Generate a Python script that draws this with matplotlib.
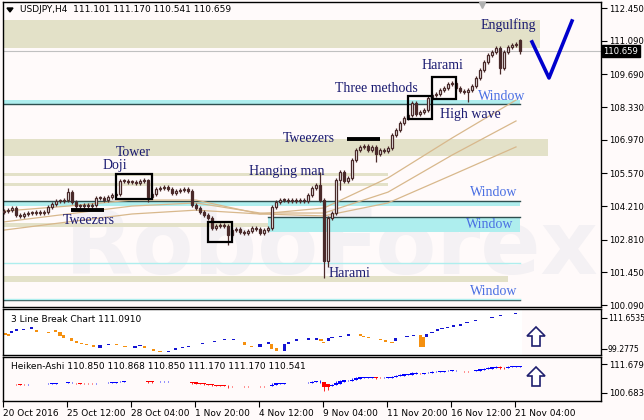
import matplotlib
matplotlib.use('Agg')
import matplotlib.pyplot as plt
import matplotlib.transforms as mtransforms
from matplotlib.patches import Rectangle, Polygon
import numpy as np

# ---- candle data (USDJPY H4) ----
closes = [104.00, 104.04, 104.13, 103.84, 103.80, 103.88, 103.92, 103.92, 103.96, 103.92,
          103.96, 104.17, 104.29, 104.42, 104.42, 104.46, 104.79, 104.38, 104.21, 104.21,
          104.25, 104.21, 104.25, 104.54, 104.54, 104.46, 104.59, 104.67, 104.71, 105.25,
          105.25, 105.21, 105.21, 105.17, 105.25, 105.29, 104.59, 104.71, 104.92, 104.96,
          105.00, 104.92, 104.75, 104.84, 104.88, 104.92, 104.84, 104.25, 104.13, 103.96,
          103.84, 103.71, 103.30, 103.38, 103.42, 103.38, 103.00, 103.21, 103.25, 103.13,
          103.09, 103.17, 103.30, 103.25, 103.09, 103.21, 103.30, 104.17, 104.38, 104.46,
          104.46, 104.42, 104.46, 104.42, 104.46, 104.42, 104.67, 104.96, 105.09, 104.46,
          101.92, 103.71, 103.92, 105.29, 105.63, 105.25, 105.38, 106.13, 106.54, 106.67,
          106.71, 106.54, 106.67, 106.37, 106.54, 106.50, 106.63, 107.17, 107.37, 107.66,
          107.87, 108.00, 108.50, 108.04, 108.12, 108.21, 108.71, 108.83, 108.87, 109.04,
          109.12, 109.29, 109.33, 109.12, 109.00, 108.95, 109.04, 109.21, 109.54, 109.87,
          110.20, 110.49, 110.62, 110.79, 109.95, 110.62, 110.83, 110.91, 110.95, 110.659]
first_open = 103.96
last_open = 111.101
# long wicks that stand out
high_marks = {16: 104.96, 36: 105.33, 79: 105.63, 129: 111.170}
low_marks = {36: 104.38, 56: 102.59, 80: 101.22, 81: 101.67, 84: 104.88,
             93: 106.04, 116: 108.55, 124: 109.70, 129: 110.541}

# moving averages, sampled every 16 bars
ma_x = [0, 16, 32, 48, 64, 80, 96, 112, 128]
ma_fast = [104.00, 104.21, 104.46, 104.46, 103.88, 104.13, 105.38, 107.04, 108.62]
ma_mid = [103.55, 103.88, 104.21, 104.34, 103.92, 103.92, 104.79, 106.33, 107.75]
ma_slow = [103.21, 103.55, 103.88, 104.04, 103.88, 103.80, 104.34, 105.50, 106.67]

# support / resistance zones: (x start, x end, low, high, colour key)
zones = [(-1, 134, 110.79, 111.95, 'k'),
         (-1, 129, 108.46, 108.62, 'c'),
         (-1, 136, 106.29, 107.00, 'k'),
         (-1, 96, 105.46, 105.58, 'k'),
         (-1, 96, 105.04, 105.17, 'k'),
         (-1, 129, 104.21, 104.38, 'c'),
         (-1, 77, 103.34, 103.50, 'k'),
         (66, 129, 103.13, 103.75, 'c'),
         (-1, 126, 101.05, 101.30, 'k')]
zone_lines = [(-1, 129, 108.46), (-1, 129, 104.42), (66, 129, 103.75), (-1, 129, 100.30)]
thin_cyan = [(-1, 129, 101.84), (-1, 129, 100.36)]

# 3 Line Break bricks
lb_x = [0.25, 1.1, 1.9, 3.1, 4.9, 6.9, 8.1, 11.1, 12.9, 14.0, 14.9, 16.9, 18.1, 19.4, 20.6, 22.4,
        24.0, 26.1, 28.1, 30.25, 32.75, 34.0, 35.1, 37.4, 39.0, 41.1, 42.9, 44.6, 46.1, 49.6,
        52.6, 55.1, 57.4, 60.1, 61.9, 64.0, 66.1, 66.9, 68.1, 70.1, 71.1, 73.1, 76.1, 78.1,
        79.25, 79.9, 81.1, 82.0, 84.1, 86.1, 89.1, 89.9, 91.1, 94.1, 95.4, 97.0, 97.9, 100.75,
        102.4, 104.1, 104.9, 105.6, 107.0, 108.4, 109.5, 110.9, 112.4, 114.1, 115.75, 117.9,
        122.0, 124.1, 127.9]
lb_hi = [105.65, 105.25, 106.45, 107.25, 107.25, 108.05, 106.85, 106.05, 106.85, 106.05,
         104.85, 103.65, 102.45, 101.65, 101.25, 100.85, 100.85, 101.25, 101.25, 100.45,
         100.45, 100.85, 100.45, 99.25, 98.45, 98.45, 99.65, 100.05, 100.45, 101.65,
         102.45, 103.25, 103.25, 102.05, 100.45, 101.25, 102.05, 101.25, 99.65, 101.25,
         102.05, 103.25, 103.65, 103.65, 103.25, 102.05, 103.65, 104.05, 104.45, 105.25,
         105.25, 104.45, 104.05, 103.25, 102.85, 102.05, 103.65, 104.45, 104.85, 104.85,
         104.05, 105.25, 106.05, 107.25, 107.65, 108.05, 108.85, 109.25, 110.05, 110.85,
         112.05, 112.85, 113.65]
lb_lo = [104.85, 104.45, 105.65, 106.45, 106.85, 107.25, 106.05, 105.65, 106.05, 104.45,
         103.65, 102.45, 101.65, 101.25, 100.85, 100.05, 99.65, 100.85, 100.85, 100.05,
         99.65, 100.45, 99.65, 98.45, 98.05, 98.05, 98.85, 99.65, 100.05, 101.25,
         102.05, 102.85, 102.85, 100.85, 100.05, 100.05, 101.25, 99.25, 98.45, 98.45,
         101.25, 102.45, 102.85, 102.85, 102.45, 101.65, 102.45, 103.65, 104.05, 104.45,
         104.45, 104.05, 103.65, 102.85, 102.05, 101.65, 102.45, 104.05, 104.45, 100.05,
         100.05, 104.05, 105.65, 106.45, 107.25, 107.65, 108.05, 108.45, 109.65, 110.45,
         111.65, 112.45, 113.25]
lb_dir = list("oobbbb" "oooooooooo" "bb" "oo" "bb" "ooo" "bbbbbbbb" "oo" "bb" "oo"
              "bbbbb" "oo" "bbbb" "oooooo" "bbb" "oo" "bbbbbbbbbbbb")

date_labels = ['20 Oct 2016', '25 Oct 12:00', '28 Oct 04:00', '1 Nov 20:00', '4 Nov 12:00',
               '9 Nov 04:00', '11 Nov 20:00', '16 Nov 12:00', '21 Nov 04:00']
price_ticks = [100.09, 101.45, 102.81, 104.21, 105.57, 106.97, 108.33, 109.69, 111.09, 112.45]

# ---- colours ----
BG = '#FFFAFA'
KHAKI = '#E3E1C8'
CYAN = '#AEEEEE'
DARK = '#2F4F4F'
CANDLE = '#4A2A2A'
NAVY = '#191970'
WINBLUE = '#4A6FE3'
TAN = '#D8B88C'
TICKFS = 6.1

W, H = 644, 420
fig = plt.figure(figsize=(W / 100, H / 100), dpi=100, facecolor=BG)


def px_axes(x0, y0, x1, y1):
    return fig.add_axes([x0 / W, 1 - y1 / H, (x1 - x0) / W, (y1 - y0) / H])


ax = px_axes(3, 2, 601, 307)
ax1 = px_axes(3, 309, 601, 355)
ax2 = px_axes(3, 357, 601, 401)
xlim = (-0.25, 149.25)

for a in (ax, ax1, ax2):
    a.set_facecolor(BG)
    a.set_xlim(*xlim)
    for s in a.spines.values():
        s.set_color('black')
        s.set_linewidth(1)
    a.yaxis.tick_right()
    a.tick_params(axis='y', direction='out', length=4, labelsize=TICKFS, pad=1.5, width=0.8)
    a.tick_params(axis='x', bottom=False, labelbottom=False)

# ---- main panel ----
ax.set_ylim(100.01, 112.70)
ax.set_yticks(price_ticks)
ax.set_yticklabels(['%.3f' % v for v in price_ticks])

ax.text(0.55, 0.19, 'RoboForex', transform=ax.transAxes, ha='center', va='center',
        fontsize=64, fontweight='bold', color='#F4F1F4', zorder=0.5)

for x0, x1, lo, hi, c in zones:
    ax.add_patch(Rectangle((x0, lo), x1 - x0, hi - lo, color=KHAKI if c == 'k' else CYAN,
                           lw=0, zorder=1))
for x0, x1, y in zone_lines:
    ax.plot([x0, x1], [y, y], color=DARK, lw=1, zorder=1.5)
for x0, x1, y in thin_cyan:
    ax.plot([x0, x1], [y, y], color=CYAN, lw=1, zorder=1.5)
ax.axhline(110.659, color='#C0C0C0', lw=0.8, zorder=1.2)

for m in (ma_fast, ma_mid, ma_slow):
    ax.plot(ma_x, m, color=TAN, lw=0.9, zorder=2)

c = np.array(closes)
o = np.array([first_open] + closes[:-1])
o[-1] = last_open
h = np.maximum(o, c) + 0.07
l = np.minimum(o, c) - 0.07
for k, v in high_marks.items():
    h[k] = v
for k, v in low_marks.items():
    l[k] = v
idx = np.arange(len(c))
ax.vlines(idx, l, h, color=CANDLE, lw=0.9, zorder=3)
body = np.where(np.abs(c - o) < 0.03, 0.03, c - o)
up = c >= o
ax.bar(idx[up], body[up], bottom=o[up], width=0.66, color='white', edgecolor=CANDLE,
       linewidth=0.9, zorder=3.2)
ax.bar(idx[~up], body[~up], bottom=o[~up], width=0.66, color=CANDLE, edgecolor=CANDLE,
       linewidth=0.9, zorder=3.2)

# pattern boxes and tweezers bars
for x0, x1, y0, y1 in [(28, 37, 104.50, 105.54), (51, 57, 102.71, 103.55),
                       (101, 107, 107.83, 108.79), (107, 113, 108.66, 109.58)]:
    ax.add_patch(Rectangle((x0, y0), x1 - x0, y1 - y0, fill=False, ec='black', lw=1.6,
                           zorder=4))
ax.plot([16.75, 25], [104.05, 104.05], color='black', lw=2.8, zorder=4, solid_capstyle='butt')
ax.plot([85.75, 94], [107.0, 107.0], color='black', lw=2.8, zorder=4, solid_capstyle='butt')

labels = [('Engulfing', 119.25, 111.74, NAVY), ('Harami', 104.5, 110.04, NAVY),
          ('Three methods', 82.75, 109.12, NAVY), ('High wave', 109, 108.04, NAVY),
          ('Window', 118.5, 108.75, WINBLUE), ('Tweezers', 69.75, 107.04, NAVY),
          ('Tower', 28, 106.42, NAVY), ('Doji', 24.75, 105.88, NAVY),
          ('Hanging man', 61.25, 105.63, NAVY), ('Window', 116.5, 104.79, WINBLUE),
          ('Tweezers', 14.75, 103.59, NAVY), ('Window', 115.5, 103.46, WINBLUE),
          ('Harami', 81.25, 101.42, NAVY), ('Window', 116.5, 100.67, WINBLUE)]
for txt, x, y, col in labels:
    ax.text(x, y, txt, ha='left', va='center', fontsize=10, color=col,
            family='Liberation Serif', zorder=5)

ax.plot([132, 136.25, 142], [111.04, 109.54, 111.91], color='#0000CD', lw=2.6, zorder=5)
ax.plot([119.5], [112.58], marker='v', color='#B0B0B0', ms=5, zorder=5, clip_on=False)

trans = mtransforms.blended_transform_factory(ax.transAxes, ax.transData)
ax.text(1.004, 110.659, '110.659', transform=trans, ha='left', va='center', fontsize=TICKFS,
        color='white', bbox=dict(boxstyle='square,pad=0.15', fc='black', ec='black'),
        zorder=6, clip_on=False)

fig.text(20 / W, 1 - 10 / H, 'USDJPY,H4  111.101 111.170 110.541 110.659', ha='left',
         va='center', fontsize=6.5, color='black')
fig.patches.append(Polygon([(7 / W, 1 - 8 / H), (13 / W, 1 - 8 / H), (10 / W, 1 - 12 / H)],
                           closed=True, color='black', transform=fig.transFigure))

# ---- 3 Line Break panel ----
ax1.set_ylim(96.85, 115.25)
ax1.set_yticks([99.2775, 111.6535])
ax1.set_yticklabels(['99.2775', '111.6535'])
ax1.tick_params(axis='y', labelsize=5.6, pad=1)
ax1.add_patch(Rectangle((xlim[0], 96.85), 129.5 - xlim[0], 115.25 - 96.85, color='white',
                        lw=0, zorder=0.5))
for x, lo, hi, d in zip(lb_x, lb_lo, lb_hi, lb_dir):
    ax1.add_patch(Rectangle((x - 0.45, lo), 0.9, hi - lo, lw=0, zorder=2,
                            color='#1414D2' if d == 'b' else '#F5900F'))
ax1.text(8 / 598, 0.78, '3 Line Break Chart 111.0910', transform=ax1.transAxes, ha='left',
         va='center', fontsize=6.5, color='black')

# ---- Heiken-Ashi panel ----
ha_c = (o + h + l + c) / 4
ha_o = np.zeros_like(ha_c)
ha_o[0] = (o[0] + c[0]) / 2
for i in range(1, len(c)):
    ha_o[i] = (ha_o[i - 1] + ha_c[i - 1]) / 2
ha_h = np.maximum(h, np.maximum(ha_o, ha_c))
ha_l = np.minimum(l, np.minimum(ha_o, ha_c))
ha_up = ha_c >= ha_o
cols = np.where(ha_up, '#0000FF', '#FF0000')
ax2.set_ylim(97.42, 114.53)
ax2.set_yticks([100.683, 111.679])
ax2.set_yticklabels(['100.683', '111.679'])
ax2.vlines(idx, ha_l, ha_h, colors=cols, lw=0.6, zorder=2)
ax2.bar(idx, np.where(np.abs(ha_c - ha_o) < 0.06, 0.06, ha_c - ha_o), bottom=ha_o, width=0.8,
        color=cols, lw=0, zorder=2.2)
ax2.text(8 / 598, 0.78, 'Heiken-Ashi 110.850 110.868 110.850 111.170 111.170 110.541',
         transform=ax2.transAxes, ha='left', va='center', fontsize=6.5, color='black')
ax2.tick_params(axis='x', bottom=True, labelbottom=True, direction='out', length=4,
                labelsize=6.5, pad=2, width=0.8)
ax2.set_xticks([16 * k - 0.25 for k in range(len(date_labels))])
ax2.set_xticklabels(date_labels, ha='left')

# hollow up arrows on the indicator panels
for y_tip in (327, 367):
    pts = [(536, y_tip), (545, y_tip + 9), (540, y_tip + 9), (540, y_tip + 19),
           (532, y_tip + 19), (532, y_tip + 9), (527, y_tip + 9)]
    fig.patches.append(Polygon([(x / W, 1 - y / H) for x, y in pts], closed=True,
                               fc='white', ec='#1E1E6E', lw=1.2, transform=fig.transFigure))

fig.savefig('out.png', dpi=100, facecolor=BG)
